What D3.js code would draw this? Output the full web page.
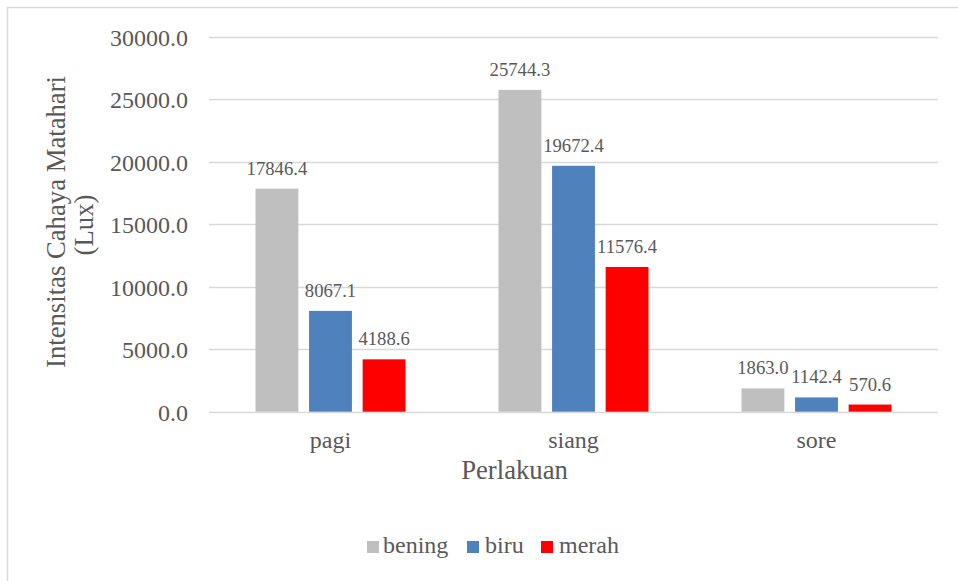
<!DOCTYPE html>
<html>
<head>
<meta charset="utf-8">
<script src="https://cdn.jsdelivr.net/npm/d3@7"></script>
<style>
  html, body { margin: 0; padding: 0; background: #fff; }
  svg { display: block; }
  svg text { font-family: "Liberation Serif", "Times New Roman", serif !important; }
</style>
</head>
<body>
<svg id="chart" width="958" height="581"></svg>
<script>
const categories = ["pagi", "siang", "sore"];
const seriesNames = ["bening", "biru", "merah"];
const bening = [17846.4, 25744.3, 1863.0];
const biru = [8067.1, 19672.4, 1142.4];
const merah = [4188.6, 11576.4, 570.6];
const yTicks = [0, 5000, 10000, 15000, 20000, 25000, 30000];
const seriesColors = ["#BFBFBF", "#4F81BD", "#FF0000"];

const seriesValues = [bening, biru, merah];
const rows = categories.map((c, i) => ({
  category: c,
  values: seriesNames.map((s, j) => ({ series: s, value: seriesValues[j][i] }))
}));

const svg = d3.select("#chart");
const textColor = "#595959";
const gridColor = "#D9D9D9";

// outer frame (left & top visible)
svg.append("rect")
  .attr("x", 7.5).attr("y", 7.5)
  .attr("width", 1200).attr("height", 1200)
  .attr("fill", "none").attr("stroke", gridColor).attr("stroke-width", 1.5);

const plot = { left: 209, right: 938, top: 36.7, bottom: 411.7 };

const y = d3.scaleLinear().domain([0, 30000]).range([plot.bottom, plot.top]);
const x0 = d3.scaleBand().domain(categories).range([plot.left, plot.right]).paddingInner(0).paddingOuter(0);
const groupPad = 46.5;
const x1 = d3.scaleBand().domain(seriesNames)
  .range([groupPad, x0.bandwidth() - groupPad]).paddingInner(0.2).paddingOuter(0);
const color = d3.scaleOrdinal().domain(seriesNames).range(seriesColors);

// gridlines
const yAxis = d3.axisLeft(y).tickValues(yTicks).tickSize(0).tickFormat(d => d3.format(".1f")(d));
svg.append("g")
  .selectAll("line").data(yTicks).join("line")
  .attr("x1", plot.left).attr("x2", plot.right)
  .attr("y1", d => Math.round(y(d)) + 0.5).attr("y2", d => Math.round(y(d)) + 0.5)
  .attr("stroke", gridColor).attr("stroke-width", 1.5);

const gy = svg.append("g").attr("transform", `translate(${188},0)`).call(yAxis);
gy.select(".domain").remove();
gy.selectAll("text")
  .attr("x", 0).attr("dy", "0.35em")
  .attr("fill", textColor)
  .style("font-size", "24px");

// bars
const groups = svg.append("g").selectAll("g").data(rows).join("g")
  .attr("transform", d => `translate(${x0(d.category)},0)`);

groups.selectAll("rect").data(d => d.values).join("rect")
  .attr("x", d => x1(d.series))
  .attr("width", x1.bandwidth())
  .attr("y", d => y(d.value))
  .attr("height", d => y(0) - y(d.value))
  .attr("fill", d => color(d.series));

groups.selectAll("text").data(d => d.values).join("text")
  .attr("x", d => x1(d.series) + x1.bandwidth() / 2)
  .attr("y", d => y(d.value) - 14)
  .attr("text-anchor", "middle")
  .attr("fill", textColor)
  .style("font-size", "18.7px")
  .text(d => d3.format(".1f")(d.value));

// x axis labels
const xAxis = d3.axisBottom(x0).tickSize(0);
const gx = svg.append("g").attr("transform", `translate(0,${plot.bottom})`).call(xAxis);
gx.select(".domain").remove();
gx.selectAll("text")
  .attr("y", 36).attr("dy", 0)
  .attr("fill", textColor)
  .style("font-size", "24px");

// axis titles
svg.append("text")
  .attr("x", 514.5).attr("y", 479)
  .attr("text-anchor", "middle").attr("fill", textColor)
  .style("font-size", "26.7px")
  .text("Perlakuan");

const yTitle = svg.append("g").attr("fill", textColor).style("font-size", "26.7px");
yTitle.append("text")
  .attr("transform", "translate(65,222) rotate(-90)")
  .attr("text-anchor", "middle")
  .text("Intensitas Cahaya Matahari");
yTitle.append("text")
  .attr("transform", "translate(93,225) rotate(-90)")
  .attr("text-anchor", "middle")
  .text("(Lux)");

// legend
const legendItems = [
  { name: "bening", sx: 367, tx: 383 },
  { name: "biru", sx: 467, tx: 485 },
  { name: "merah", sx: 541, tx: 559 }
];
const lg = svg.append("g");
lg.selectAll("rect").data(legendItems).join("rect")
  .attr("x", d => d.sx).attr("y", 541)
  .attr("width", 12).attr("height", 12)
  .attr("fill", d => color(d.name));
lg.selectAll("text").data(legendItems).join("text")
  .attr("x", d => d.tx).attr("y", 553)
  .attr("fill", textColor)
  .style("font-size", "24px")
  .text(d => d.name);
</script>
</body>
</html>
